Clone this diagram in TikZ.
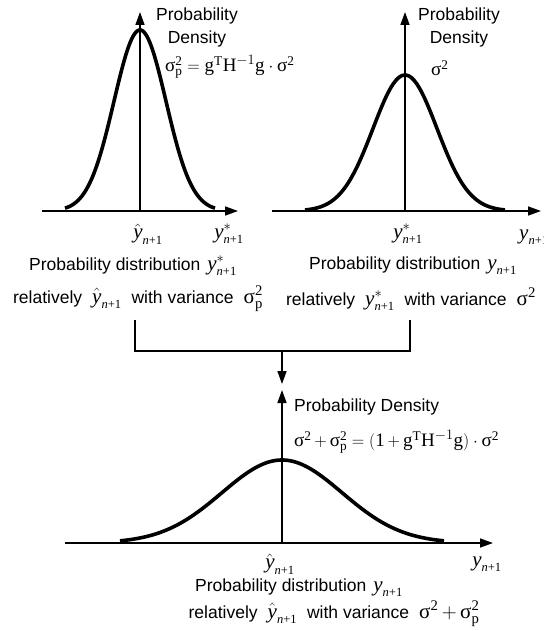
\documentclass[tikz,border=0pt]{standalone}
\usepackage{amsmath}
\usepackage{fontspec}
\setmainfont{Liberation Sans}
\newfontfamily\tnr{Liberation Serif}
\usetikzlibrary{positioning,arrows.meta}

% serif pieces for the formulas
\newcommand{\sgm}{\text{\tnr σ}}
\newcommand{\rmt}[1]{\text{\tnr #1}}
\newcommand{\yv}{\text{\tnr\itshape y}}
\newcommand{\nsub}{\text{\fontsize{12.5}{13}\selectfont\tnr\itshape n\upshape +1}}
\newcommand{\eqs}{\;{=}\;}
\newcommand{\pls}{\,{+}\,}
\newcommand{\vmath}[1]{{\fontsize{21}{22}\selectfont$#1$}}
\newcommand{\frm}[1]{{\fontsize{19}{22}\selectfont$#1$}}
\newcommand{\gap}{\hspace{7pt}}
\newcommand{\wgap}{\hspace{10pt}}

\begin{document}
\begin{tikzpicture}[
        x=1pt, y=-1pt,
        font=\fontsize{17.5}{23}\selectfont,
        >={Triangle[length=13pt, width=9pt]},
        axis/.style={->, line width=1.6pt},
        curve/.style={line width=3.6pt, line join=round},
        link/.style={line width=1.6pt},
        lab/.style={inner sep=0pt, align=center},
        tag/.style={inner sep=0pt, anchor=west}
    ]
        \clip (0,0) rectangle (543,631);

        % Left plot: narrow density around the estimate
        \coordinate (lo) at (140,211);
        \draw[axis] (42,211) -- (238,211);
        \draw[axis] (lo) -- (140,12);
        \draw[curve] plot[domain=-75:75, samples=80, smooth]
            ({140+\x}, {211-181*exp(-0.5*(\x/26)*(\x/26))});

        % Right plot: density of the observation
        \coordinate (ro) at (405,211);
        \draw[axis] (272,211) -- (541,211);
        \draw[axis] (ro) -- (405,12);
        \draw[curve] plot[domain=-100:100, samples=80, smooth]
            ({405+\x}, {211-136*exp(-0.5*(\x/32)*(\x/32))});

        % Bottom plot: combined density
        \coordinate (bo) at (282,543);
        \draw[axis] (65,543) -- (493,543);
        \draw[axis] (bo) -- (282,390);
        \draw[curve] plot[domain=-162:162, samples=100, smooth]
            ({282+\x}, {543-83*exp(-0.5*(\x/60)*(\x/60))});

        % Axis titles
        \node[lab] (lpd) at (197,27) {Probability\\Density};
        \node[lab] (rpd) at (459,27) {Probability\\Density};
        \node[tag] (bpd) at (294,407) {Probability Density};

        % Variances
        \node[tag] (lvar) at (165,67)
            {\frm{\sgm^{\rmt{2}}_{\rmt{p}}\eqs\rmt{g}^{\rmt{T}}\rmt{H}^{-1}\rmt{g}\cdot\sgm^{\rmt{2}}}};
        \node[tag] (rvar) at (431,68) {\frm{\sgm^{\rmt{2}}}};
        \node[tag] (bvar) at (294,442)
            {\frm{\sgm^{\rmt{2}}\pls\sgm^{\rmt{2}}_{\rmt{p}}\eqs(\rmt{1}\pls\rmt{g}^{\rmt{T}}\rmt{H}^{-1}\rmt{g})\cdot\sgm^{\rmt{2}}}};

        % Axis marks
        \node[lab] (lhat) at (148,234) {\vmath{\hat{\yv}_{\nsub}}};
        \node[lab] (lstar) at (229,234) {\vmath{\yv^{*}_{\nsub}}};
        \node[lab] (rstar) at (408,234) {\vmath{\yv^{*}_{\nsub}}};
        \node[tag] (ry) at (519,237) {\vmath{\yv_{\nsub}}};
        \node[lab] (bhat) at (280,564) {\vmath{\hat{\yv}_{\nsub}}};
        \node[lab] (by) at (487,564) {\vmath{\yv_{\nsub}}};

        % Captions
        \node[lab] (lcap) at (133,266) {Probability distribution\gap\vmath{\yv^{*}_{\nsub}}};
        \node[lab] (lrel) at (138,299)
            {relatively\wgap\vmath{\hat{\yv}_{\nsub}}\wgap with variance\wgap\vmath{\sgm^{\rmt{2}}_{\rmt{p}}}};
        \node[lab] (rcap) at (413,266) {Probability distribution\gap\vmath{\yv_{\nsub}}};
        \node[lab] (rrel) at (411,299)
            {relatively\wgap\vmath{\yv^{*}_{\nsub}}\wgap with variance\wgap\vmath{\sgm^{\rmt{2}}}};
        \node[lab] (bcap) at (299,588) {Probability distribution\gap\vmath{\yv_{\nsub}}};
        \node[lab] (brel) at (334,614)
            {relatively\wgap\vmath{\hat{\yv}_{\nsub}}\wgap with variance\wgap\vmath{\sgm^{\rmt{2}}\pls\sgm^{\rmt{2}}_{\rmt{p}}}};

        % Joining both results
        \coordinate (la) at (135,320);
        \coordinate (ra) at (410,320);
        \coordinate (mid) at (282,351);
        \coordinate (mt) at (282,384);
        \draw[link] (la) |- (mid) -| (ra);
        \draw[link, ->] (mid) -- (mt);

    \end{tikzpicture}
\end{document}
